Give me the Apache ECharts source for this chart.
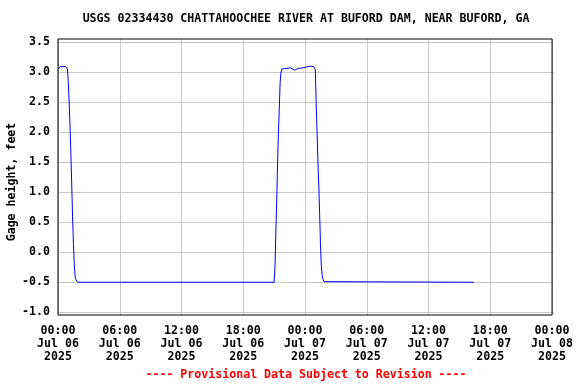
<!DOCTYPE html>
<html>
<head>
<meta charset="utf-8">
<script src="https://cdn.jsdelivr.net/npm/echarts@6/dist/echarts.min.js"></script>
<style>html,body{margin:0;padding:0;background:#fff}#c{width:576px;height:384px}</style>
</head>
<body>
<div id="c"></div>
<script>
const titleText = "USGS 02334430 CHATTAHOOCHEE RIVER AT BUFORD DAM, NEAR BUFORD, GA";
const footerText = "---- Provisional Data Subject to Revision ----";
const yAxisName = "Gage height, feet";
const xTickLabels = ["00:00\nJul 06\n2025","06:00\nJul 06\n2025","12:00\nJul 06\n2025","18:00\nJul 06\n2025","00:00\nJul 07\n2025","06:00\nJul 07\n2025","12:00\nJul 07\n2025","18:00\nJul 07\n2025","00:00\nJul 08\n2025"];
const yTicks = [-1.0,-0.5,0.0,0.5,1.0,1.5,2.0,2.5,3.0,3.5];
const times = [
 "2025-07-06 00:00","2025-07-06 00:15","2025-07-06 00:45","2025-07-06 00:55","2025-07-06 01:00",
 "2025-07-06 01:05","2025-07-06 01:10","2025-07-06 01:15","2025-07-06 01:20","2025-07-06 01:25",
 "2025-07-06 01:30","2025-07-06 01:35","2025-07-06 01:40","2025-07-06 01:45","2025-07-06 01:50",
 "2025-07-06 01:55","2025-07-06 21:00","2025-07-06 21:05","2025-07-06 21:10","2025-07-06 21:15",
 "2025-07-06 21:20","2025-07-06 21:25","2025-07-06 21:30","2025-07-06 21:35","2025-07-06 21:40",
 "2025-07-06 21:45","2025-07-06 21:55","2025-07-06 22:35","2025-07-06 23:00","2025-07-06 23:20",
 "2025-07-06 23:50","2025-07-07 00:00","2025-07-07 00:30","2025-07-07 00:50","2025-07-07 01:00",
 "2025-07-07 01:05","2025-07-07 01:10","2025-07-07 01:15","2025-07-07 01:20","2025-07-07 01:25",
 "2025-07-07 01:30","2025-07-07 01:35","2025-07-07 01:40","2025-07-07 01:45","2025-07-07 01:50",
 "2025-07-07 01:55","2025-07-07 16:25"
];
const gageHeight = [
 3.05,3.09,3.09,3.05,2.84,
 2.49,2.10,1.65,1.12,0.59,
 0.15,-0.21,-0.41,-0.46,-0.49,
 -0.50,-0.50,-0.23,0.34,0.87,
 1.48,1.99,2.40,2.83,3.00,
 3.05,3.07,3.07,3.03,3.06,
 3.07,3.10,3.10,3.09,3.04,
 2.48,2.01,1.54,1.12,0.65,
 0.15,-0.24,-0.38,-0.45,-0.49,
 -0.50,-0.50
];

function hoursFromStart(s){
  const d = parseInt(s.slice(8,10),10), h = parseInt(s.slice(11,13),10), m = parseInt(s.slice(14,16),10);
  return (d-6)*24 + h + m/60;
}
const seriesData = times.map((t,i)=>[hoursFromStart(t), gageHeight[i]]);

const FONT = "'DejaVu Sans Mono', 'Liberation Mono', monospace";
const FS = 11.6;
const chart = echarts.init(document.getElementById('c'), null, {renderer:'canvas'});
chart.setOption({
  animation:false,
  backgroundColor:'#fff',
  graphic:[
    {type:'text', x:306, y:19,
     style:{text:titleText, fontFamily:FONT, fontWeight:'bold', fontSize:FS, fill:'#000', align:'center', verticalAlign:'middle'}},
    {type:'text', x:306, y:375,
     style:{text:footerText, fontFamily:FONT, fontWeight:'bold', fontSize:FS, fill:'#ff0000', align:'center', verticalAlign:'middle'}},
    {type:'text', x:12, y:182, rotation:Math.PI/2,
     style:{text:yAxisName, fontFamily:FONT, fontWeight:'bold', fontSize:FS, fill:'#000', align:'center', verticalAlign:'middle'}}
  ],
  grid:[
    {left:58, top:39, width:496, height:276, show:true, borderColor:'#000', borderWidth:1, backgroundColor:'transparent', z:5},
    {left:58, top:42.3, width:496, height:270, show:false}
  ],
  xAxis:[
    {type:'value', gridIndex:0, min:0, max:48, interval:6,
     axisLine:{show:false}, axisTick:{show:false},
     splitLine:{show:true, lineStyle:{color:'#c8c8c8', width:1}},
     axisLabel:{margin:9, fontFamily:FONT, fontWeight:'bold', fontSize:FS, color:'#000', lineHeight:13,
       formatter:(v)=>xTickLabels[Math.round(v/6)]}},
    {type:'value', gridIndex:1, min:0, max:48, show:false}
  ],
  yAxis:[
    {type:'value', gridIndex:0, min:-1.045, max:3.55, show:false, splitLine:{show:false}},
    {type:'value', gridIndex:1, min:yTicks[0], max:yTicks[yTicks.length-1], interval:0.5,
     axisLine:{show:false}, axisTick:{show:false},
     splitLine:{show:true, lineStyle:{color:'#c8c8c8', width:1}},
     axisLabel:{margin:8, fontFamily:FONT, fontWeight:'bold', fontSize:FS, color:'#000',
       formatter:(v)=>v.toFixed(1)}}
  ],
  series:[{
    type:'line', xAxisIndex:0, yAxisIndex:0, data:seriesData, showSymbol:false, symbol:'none',
    lineStyle:{color:'#0000ff', width:1}, z:3, clip:true
  }]
});
</script>
</body>
</html>
